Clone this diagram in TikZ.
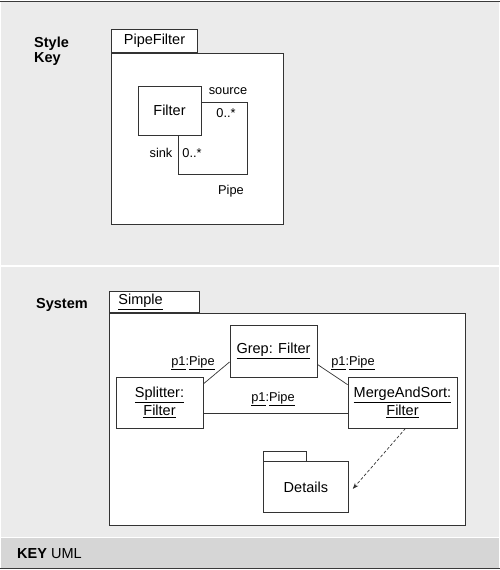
\documentclass[tikz,border=0pt]{standalone}
\usepackage{fontspec}
\setmainfont{Liberation Sans}
\usetikzlibrary{arrows.meta}

\definecolor{panelgray}{HTML}{EBEBEB}
\definecolor{bargray}{HTML}{D6D6D6}
\definecolor{rulegray}{HTML}{3A3A3A}

\newcommand{\mainsize}{\fontsize{14.5}{18}\selectfont}
\newcommand{\labelsize}{\fontsize{12.8}{15}\selectfont}

\begin{document}
\begin{tikzpicture}[
    x=1pt, y=-1pt,
    panel/.style={fill=panelgray, draw=none},
    edge rule/.style={draw=rulegray, line width=1.3pt},
    outline/.style={draw=black!80, line width=0.8pt},
    box/.style={outline, rectangle, inner sep=0pt, font=\mainsize},
    pkg body/.style={box, fill=white, anchor=north west},
    pkg tab/.style={box, fill=white, anchor=south west, inner xsep=0pt,
        text width=#1, align=left, inner ysep=0pt},
    object/.style={box, fill=white, align=center},
    heading/.style={font=\mainsize\bfseries, inner sep=0pt},
    role label/.style={font=\labelsize, inner sep=1pt},
    wire/.style={draw=black!80, line width=0.7pt},
    dependency/.style={wire, dash pattern=on 3pt off 2pt,
        -{Stealth[length=6pt, width=4.5pt]}}
]
\path[use as bounding box] (0,0) rectangle (500,570);

% panels
\path[panel] (1,2) rectangle (499,265);
\path[panel] (1,267) rectangle (499,537);
\path[fill=bargray] (1,538) rectangle (499,568);
\draw[edge rule] (0,1.5) -- (500,1.5);
\draw[edge rule] (0,568.5) -- (500,568.5);

% Style key
\node[heading, align=left, anchor=north west] (style-key) at (34,36.5)
    {Style\\[-3pt]Key};

\node[pkg body, minimum width=172, minimum height=171] (key-body) at (111,53) {};
\node[pkg tab=86pt, minimum height=23, text width=77pt, inner xsep=0pt,
    minimum width=86] (key-tab) at (111,53) {\hspace*{8pt}PipeFilter};

\node[box, anchor=north west, minimum width=69, minimum height=72] (key-pipe)
    at (178,102) {};
\node[box, fill=white, minimum width=63, minimum height=49] (key-filter)
    at (169.5,110.5) {Filter};

\node[role label] (key-source) at (228,91) {source};
\node[role label] (key-source-mult) at (226,113) {0..*};
\node[role label] (key-sink) at (161,153) {sink};
\node[role label] (key-sink-mult) at (192,153) {0..*};
\node[role label] (key-pipe-name) at (231,191) {Pipe};

% System
\node[heading, anchor=base west] (system) at (36,308) {System};

\node[pkg body, minimum width=356, minimum height=212] (sys-body) at (109,313) {};
\node[pkg tab=84pt, minimum height=21, minimum width=90] (sys-tab)
    at (109,313) {\hspace*{6pt}\underline{Simple}};

\node[object, minimum width=87, minimum height=52] (sys-grep)
    at (273.5,351) {\underline{Grep: Filter}};
\node[object, minimum width=87, minimum height=51] (sys-splitter)
    at (159.5,402.5) {\underline{Splitter:}\\\underline{Filter}};
\node[object, minimum width=109, minimum height=51] (sys-merge)
    at (402.5,402.5) {\underline{MergeAndSort:}\\\underline{Filter}};

\node[box, fill=white, anchor=north west, minimum width=43, minimum height=10]
    (sys-details-tab) at (263,451) {};
\node[pkg body, minimum width=85, minimum height=51] (sys-details)
    at (263,461) {Details};

\draw[wire] (sys-splitter.23) -- (sys-grep.194);
\draw[wire] (sys-grep.343) -- (sys-merge.162);
\draw[wire] ([yshift=-10.5pt]sys-splitter.east) -- ([yshift=-10.5pt]sys-merge.west);
\draw[dependency] ([xshift=3pt]sys-merge.south)
    -- ([xshift=4pt, yshift=-2pt]sys-details.east);

\node[role label] (pipe-left) at (193,363) {\underline{p1}:\underline{Pipe}};
\node[role label] (pipe-right) at (353,363) {\underline{p1}:\underline{Pipe}};
\node[role label] (pipe-mid) at (273,399) {\underline{p1}:\underline{Pipe}};

% Key
\node[font=\mainsize, anchor=base west, inner sep=0pt] (key-uml) at (17,558)
    {\textbf{KEY} UML};

\end{tikzpicture}
\end{document}
